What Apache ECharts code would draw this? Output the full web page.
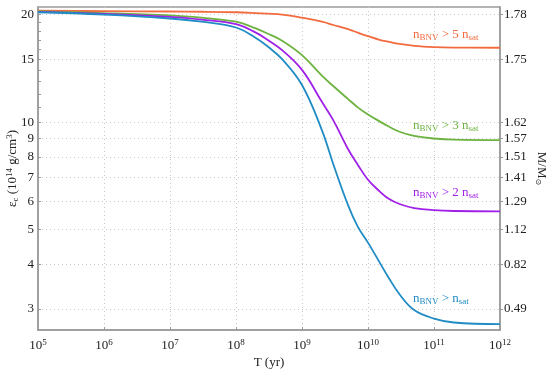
<!DOCTYPE html>
<html><head><meta charset="utf-8">
<script src="https://cdn.jsdelivr.net/npm/echarts@6/dist/echarts.min.js"></script>
<style>html,body{margin:0;padding:0;background:#fff}#c{width:550px;height:370px}</style>
</head><body><div id="c"></div>
<script>
// ---- data ----
const T = [1e5,1e6,1e7,3e7,1e8,2e8,3e8,5e8,1e9,2e9,3e9,5e9,7e9,1e10,1.5e10,2e10,3e10,5e10,1e11,2e11,1e12];
const eps5 = [20.5,20.45,20.4,20.37,20.3,20.2,20.12,20.0,19.6,19.1,18.7,18.2,17.8,17.4,17.0,16.8,16.55,16.35,16.22,16.17,16.15];
const eps3 = [20.4,20.2,19.9,19.6,19.1,18.3,17.7,16.9,15.4,13.5,12.6,11.6,11.0,10.5,10.05,9.75,9.4,9.15,9.0,8.93,8.9];
const eps2 = [20.35,20.1,19.7,19.35,18.8,17.8,17.0,15.9,14.0,11.4,10.1,8.4,7.6,6.9,6.4,6.12,5.9,5.75,5.67,5.64,5.63];
const eps1 = [20.3,20.0,19.5,19.1,18.4,17.2,16.3,15.0,12.7,9.5,7.6,5.85,5.1,4.6,4.05,3.7,3.3,2.98,2.82,2.75,2.72];
const xTicks = [1e5,1e6,1e7,1e8,1e9,1e10,1e11,1e12];
const yTicks = [3,4,5,6,7,8,9,10,15,20];
const yMinor = [11,12,13,14,16,17,18,19];
const massLabels = ['0.49','0.82','1.12','1.29','1.41','1.51','1.57','1.62','1.75','1.78'];
const colors = ['#F26B3F','#6DB33F','#A020E8','#1F8CC4'];
const names = ['5','3','2',''];

const FONT = 'Liberation Serif';
const pair = (ys) => T.map((t,i) => [t, ys[i]]);
const series = [eps5, eps3, eps2, eps1].map((ys, i) => ({
  type: 'line', data: pair(ys), smooth: 0.4, showSymbol: false,
  lineStyle: { color: colors[i], width: 1.8 }, xAxisIndex: 0, yAxisIndex: 0, z: 5
}));

const grid = {left: 38, right: 50, top: 7, bottom: 40};
const yRange = {min: 2.62, max: 21.0};
const lblStyle = {fontFamily: FONT, fontSize: 13, color: '#222'};
const chart = echarts.init(document.getElementById('c'), null, {renderer: 'canvas'});

const labelRich = (i) => ({
  b: {fontFamily: FONT, fontSize: 13, fill: colors[i]},
  s: {fontFamily: FONT, fontSize: 9, fill: colors[i], padding: [6,0,0,0]}
});
const labelY = [37, 128, 195, 301];
const graphics = [0,1,2,3].map(i => ({
  type: 'text', left: 413, top: labelY[i] - 9, z: 20,
  style: {
    text: '{b|n}{s|BNV}{b| > ' + (names[i] ? names[i] + ' ' : '') + 'n}{s|sat}',
    fill: colors[i],
    rich: labelRich(i)
  }
}));

chart.setOption({
  animation: false,
  backgroundColor: '#fff',
  grid: Object.assign({show: true, borderColor: '#9a9a9a', borderWidth: 1.5, backgroundColor: 'transparent',
    containLabel: false, outerBoundsMode: 'none'}, grid),
  xAxis: [{
    type: 'log', logBase: 10, min: 1e5, max: 1e12,
    name: 'T (yr)', nameLocation: 'middle', nameGap: 26, nameMoveOverlap: false,
    nameTextStyle: {fontFamily: FONT, fontSize: 13, color: '#222'},
    axisLine: {show: true, onZero: false, lineStyle: {color: '#9a9a9a', width: 1.5}},
    axisTick: {show: true, inside: true, length: 3, lineStyle: {color: '#9a9a9a'}, customValues: xTicks},
    axisLabel: {
      margin: 8, customValues: xTicks,
      formatter: v => '{b|10}{s|' + Math.round(Math.log10(v)) + '}',
      rich: {b: lblStyle, s: {fontFamily: FONT, fontSize: 9, color: '#222', padding: [0,0,7,0]}}
    },
    splitLine: {show: true, lineStyle: {color: '#c8c8c8', type: [1,3], width: 1}}
  }],
  yAxis: [{
    type: 'log', logBase: 10, min: yRange.min, max: yRange.max, position: 'left',
    name: '{e|ε}{c|c}{e| (10}{p|14}{e| g/cm}{p|3}{e|)}', nameLocation: 'middle', nameGap: 17, nameRotate: 90,
    nameMoveOverlap: false,
    nameTextStyle: {rich: {
      e: {fontFamily: FONT, fontSize: 13, color: '#222'},
      c: {fontFamily: FONT, fontSize: 9, color: '#222', padding: [6,0,0,0]},
      p: {fontFamily: FONT, fontSize: 9, color: '#222', padding: [0,0,7,0]}
    }},
    axisLine: {show: true, lineStyle: {color: '#9a9a9a', width: 1.5}},
    axisTick: {show: true, inside: true, length: 3, lineStyle: {color: '#9a9a9a'}, customValues: yTicks},
    axisLabel: Object.assign({margin: 4, customValues: yTicks, formatter: v => String(Math.round(v))}, lblStyle),
    splitLine: {show: true, lineStyle: {color: '#c8c8c8', type: [1,3], width: 1}}
  }, {
    type: 'log', logBase: 10, min: yRange.min, max: yRange.max, position: 'right',
    name: '{e|M/M}{c|\u2299}', nameLocation: 'middle', nameGap: 34, nameRotate: -90,
    nameMoveOverlap: false,
    nameTextStyle: {rich: {
      e: {fontFamily: FONT, fontSize: 13, color: '#222'},
      c: {fontFamily: 'DejaVu Sans', fontSize: 8, color: '#222', padding: [6,0,0,0]}
    }},
    axisLine: {show: true, lineStyle: {color: '#9a9a9a', width: 1.5}},
    axisTick: {show: true, inside: false, length: 3, lineStyle: {color: '#9a9a9a'}, customValues: yTicks},
    axisLabel: Object.assign({margin: 4, customValues: yTicks,
      formatter: v => { const k = yTicks.findIndex(t => Math.abs(t - v) < 1e-6); return k >= 0 ? massLabels[k] : ''; }}, lblStyle),
    splitLine: {show: false}
  }, {
    type: 'log', logBase: 10, min: yRange.min, max: yRange.max, position: 'left',
    axisLine: {show: false},
    axisTick: {show: true, inside: true, length: 3, lineStyle: {color: '#9a9a9a'}, customValues: yMinor},
    axisLabel: {show: false, customValues: yMinor},
    splitLine: {show: false}
  }],
  series: series,
  graphic: graphics
});
</script></body></html>
